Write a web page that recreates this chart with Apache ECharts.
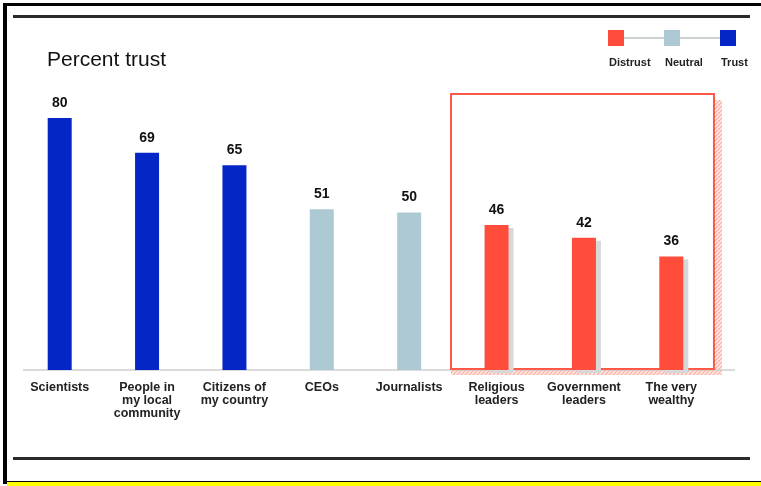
<!DOCTYPE html>
<html><head><meta charset="utf-8">
<script src="https://cdn.jsdelivr.net/npm/echarts@6/dist/echarts.min.js"></script>
<style>html,body{margin:0;padding:0;background:#fff}#c{width:761px;height:486px}</style>
</head><body><div id="c"></div>
<script>
const categories = ['Scientists', 'People in\nmy local\ncommunity', 'Citizens of\nmy country', 'CEOs', 'Journalists', 'Religious\nleaders', 'Government\nleaders', 'The very\nwealthy'];
const values = [80, 69, 65, 51, 50, 46, 42, 36];
const groups = ['Trust', 'Trust', 'Trust', 'Neutral', 'Neutral', 'Distrust', 'Distrust', 'Distrust'];
const legendNames = ['Distrust', 'Neutral', 'Trust'];
const colors = { Trust: '#0426c6', Neutral: '#adc9d3', Distrust: '#ff4c3b' };

function hatch() {
  const c = document.createElement('canvas');
  c.width = 4; c.height = 4;
  const g = c.getContext('2d');
  g.fillStyle = '#ffeae6'; g.fillRect(0, 0, 4, 4);
  g.strokeStyle = 'rgba(255,120,105,0.6)'; g.lineWidth = 1.1;
  g.beginPath(); g.moveTo(0, 4); g.lineTo(4, 0); g.moveTo(-1, 1); g.lineTo(1, -1); g.moveTo(3, 5); g.lineTo(5, 3); g.stroke();
  return c;
}
const pat = { image: hatch(), repeat: 'repeat' };

const chart = echarts.init(document.getElementById('c'), null, { renderer: 'canvas' });
const legendX = [608, 664, 720];
const graphic = [
  { type: 'rect', shape: { x: 6, y: 3, width: 755, height: 3 }, style: { fill: '#000' }, silent: true },
  { type: 'rect', shape: { x: 3, y: 3, width: 4, height: 481 }, style: { fill: '#000' }, silent: true },
  { type: 'rect', shape: { x: 7, y: 481, width: 754, height: 1 }, style: { fill: '#000' }, silent: true },
  { type: 'rect', shape: { x: 7, y: 482, width: 754, height: 4 }, style: { fill: '#ffff00' }, silent: true },
  { type: 'rect', shape: { x: 13, y: 15, width: 737, height: 3 }, style: { fill: '#2a2a2a' }, silent: true },
  { type: 'rect', shape: { x: 13, y: 457, width: 737, height: 3 }, style: { fill: '#2a2a2a' }, silent: true },
  { type: 'text', left: 47, top: 50, style: { text: 'Percent trust', font: '21px "Liberation Sans", Arial, sans-serif', fill: '#111' } },
  { type: 'rect', z: 0, shape: { x: 715, y: 100, width: 7, height: 275 }, style: { fill: pat }, silent: true },
  { type: 'rect', z: 0, shape: { x: 451, y: 370, width: 264, height: 5 }, style: { fill: pat }, silent: true },
  { type: 'line', z: 1, shape: { x1: 23, y1: 370, x2: 735, y2: 370 }, style: { stroke: '#cfcfcf', lineWidth: 1.5 }, silent: true },
  { type: 'rect', z: 1, shape: { x: 451, y: 94, width: 263, height: 275 }, style: { fill: null, stroke: '#ff5a48', lineWidth: 2 }, silent: true },
  { type: 'line', shape: { x1: 620, y1: 38, x2: 726, y2: 38 }, style: { stroke: '#cdd3d5', lineWidth: 2 }, silent: true }
];
legendNames.forEach((n, i) => {
  graphic.push({ type: 'rect', shape: { x: legendX[i], y: 30, width: 16, height: 16 }, style: { fill: colors[n] }, silent: true });
  graphic.push({ type: 'text', x: legendX[i] + 1, y: 57, style: { text: n, font: 'bold 11px "Liberation Sans", Arial, sans-serif', fill: '#222' }, silent: true });
});

chart.setOption({
  animation: false,
  grid: { left: 16, right: 46, top: 55, bottom: 116 },
  xAxis: {
    type: 'category', data: categories,
    axisLine: { show: false }, axisTick: { show: false },
    axisLabel: { interval: 0, margin: 11, fontSize: 12.5, lineHeight: 13, fontWeight: 'bold', color: '#222', fontFamily: '"Liberation Sans", Arial, sans-serif' }
  },
  yAxis: { type: 'value', min: 0, max: 100, show: false, splitLine: { show: false } },
  series: [{
    type: 'bar', barWidth: 24, z: 3,
    data: values.map((v, i) => ({
      value: v,
      itemStyle: groups[i] === 'Distrust'
        ? { color: colors.Distrust, shadowColor: '#d6d8d9', shadowOffsetX: 5, shadowOffsetY: 3, shadowBlur: 0 }
        : { color: colors[groups[i]] }
    })),
    label: { show: true, position: 'top', distance: 8, fontSize: 14, fontWeight: 'bold', color: '#111', fontFamily: '"Liberation Sans", Arial, sans-serif' }
  }],
  graphic: graphic
});
</script></body></html>
